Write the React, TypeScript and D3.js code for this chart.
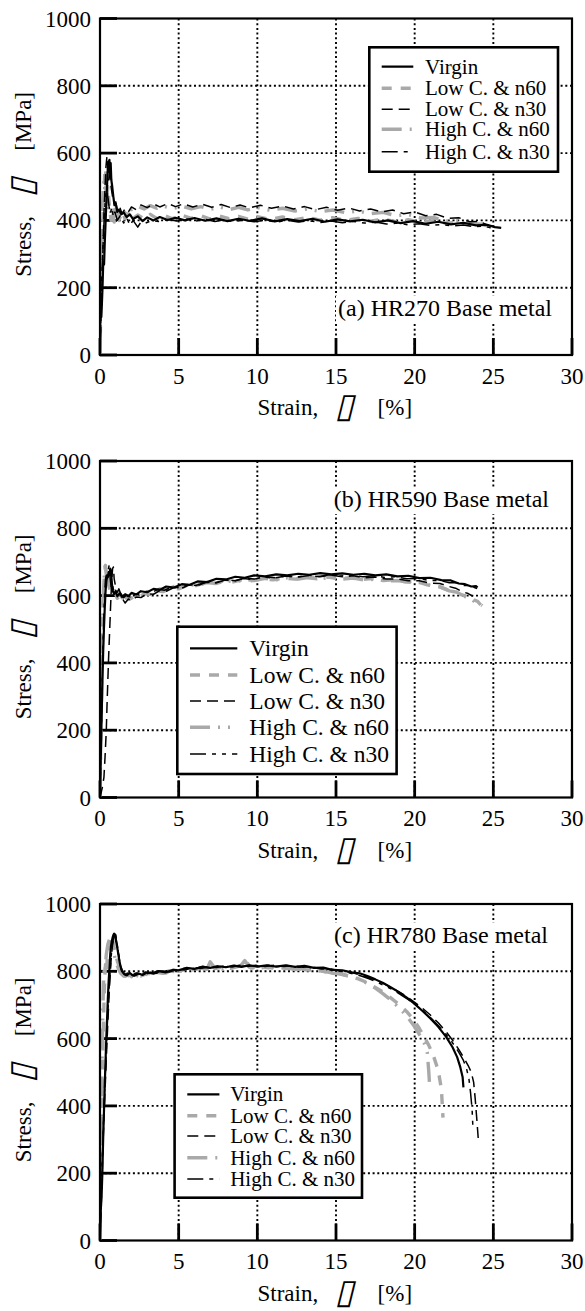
import React from 'react';
import * as d3 from 'd3';

type P = [number, number];

const xTicks = [0, 5, 10, 15, 20, 25, 30];
const yTicks = [0, 200, 400, 600, 800, 1000];
const seriesNames = ['Virgin', 'Low C. & n60', 'Low C. & n30', 'High C. & n60', 'High C. & n30'];
const panelLabels = ['(a) HR270 Base metal', '(b) HR590 Base metal', '(c) HR780 Base metal'];
const xTitle = ['Strain,', '\u25AF', '[%]'];
const yTitle = ['Stress,', '\u25AF', '[MPa]'];

// ---------- (a) HR270 ----------
const A_virgin: P[] = [[0,0],[0.02,110],[0.08,112],[0.12,150],[0.16,200],[0.2,265],[0.26,270],[0.3,330],[0.36,400],[0.42,470],[0.48,540],[0.52,575],[0.56,560],[0.6,580],[0.64,540],[0.68,570],[0.72,520],[0.78,500],[0.85,470],[0.92,445],[1.0,450],[1.1,425],[1.2,432],[1.35,418],[1.5,424],[1.7,410],[1.9,418],[2.1,404],[2.4,412],[2.7,398],[3.0,409],[3.4,400],[3.8,410],[4.3,401],[4.8,408],[5.4,400],[6.0,407],[6.7,399],[7.4,406],[8.1,398],[8.8,405],[9.5,399],[10.3,406],[11.1,397],[11.9,404],[12.7,398],[13.5,405],[14.3,396],[15.1,403],[15.9,397],[16.7,402],[17.5,394],[18.3,400],[19.1,392],[19.9,398],[20.7,390],[21.5,396],[22.3,388],[23.1,393],[23.9,385],[24.6,387],[25.1,380],[25.5,378]];
const A_lowN60: P[] = [[0,0],[0.05,150],[0.1,250],[0.15,330],[0.2,420],[0.25,480],[0.3,540],[0.35,555],[0.4,520],[0.45,480],[0.5,500],[0.6,440],[0.7,400],[0.8,430],[0.9,395],[1.0,420],[1.2,400],[1.4,425],[1.6,405],[1.8,420],[2.0,402],[2.4,416],[2.8,404],[3.2,418],[3.6,406],[4.0,416],[4.6,405],[5.2,415],[5.8,406],[6.4,414],[7.0,404],[7.6,413],[8.2,405],[8.8,412],[9.4,404],[10.0,411],[10.8,403],[11.6,410],[12.4,402],[13.2,409],[14.0,401],[14.8,408],[15.6,400],[16.4,406],[17.2,398],[18.0,404],[18.8,396],[19.6,402],[20.4,395],[21.2,399],[22.0,392],[22.8,394],[23.6,387],[24.3,388],[24.9,380],[25.2,376]];
const A_lowN30: P[] = [[0,0],[0.05,100],[0.1,180],[0.18,300],[0.25,420],[0.32,500],[0.38,560],[0.44,590],[0.5,560],[0.56,520],[0.62,560],[0.7,500],[0.8,470],[0.9,450],[1.0,455],[1.1,430],[1.25,440],[1.4,420],[1.6,435],[1.8,425],[2.0,440],[2.3,432],[2.6,446],[3.0,438],[3.4,449],[3.8,440],[4.3,450],[4.8,441],[5.3,449],[5.9,440],[6.5,448],[7.1,439],[7.7,447],[8.3,438],[8.9,446],[9.5,437],[10.2,445],[10.9,436],[11.6,443],[12.3,434],[13.0,441],[13.7,432],[14.4,439],[15.1,430],[15.8,437],[16.5,428],[17.2,434],[17.9,425],[18.6,431],[19.3,420],[20.0,425],[20.7,414],[21.4,418],[22.1,406],[22.8,408],[23.5,396],[24.1,397],[24.7,385],[25.1,382]];
const A_highN60: P[] = [[0,0],[0.03,170],[0.08,280],[0.12,380],[0.17,450],[0.22,500],[0.27,520],[0.32,480],[0.37,500],[0.42,460],[0.5,430],[0.6,445],[0.7,420],[0.8,438],[0.9,418],[1.0,434],[1.2,416],[1.4,432],[1.6,424],[1.8,440],[2.0,432],[2.4,442],[2.8,434],[3.2,444],[3.6,436],[4.0,443],[4.6,435],[5.2,442],[5.8,434],[6.4,441],[7.0,433],[7.6,440],[8.2,432],[8.8,439],[9.4,431],[10.0,438],[10.8,430],[11.6,436],[12.4,428],[13.2,434],[14.0,426],[14.8,431],[15.6,423],[16.4,428],[17.2,420],[18.0,424],[18.8,414],[19.6,417],[20.4,407],[21.2,409],[22.0,398],[22.8,399],[23.6,390],[24.3,389],[24.9,381]];
const A_highN30: P[] = [[0,0],[0.05,130],[0.1,200],[0.15,280],[0.2,330],[0.26,400],[0.32,450],[0.38,480],[0.44,490],[0.5,470],[0.58,440],[0.66,420],[0.75,440],[0.85,410],[0.95,425],[1.1,400],[1.3,415],[1.5,392],[1.7,408],[1.9,385],[2.1,400],[2.4,380],[2.6,395],[2.9,392],[3.3,400],[3.8,396],[4.3,403],[4.9,398],[5.5,404],[6.1,398],[6.7,403],[7.3,397],[7.9,402],[8.5,396],[9.1,401],[9.8,396],[10.5,401],[11.2,395],[11.9,400],[12.6,395],[13.3,399],[14.0,394],[14.7,398],[15.4,393],[16.1,397],[16.8,392],[17.5,395],[18.2,389],[18.9,392],[19.6,387],[20.3,390],[21.0,385],[21.7,388],[22.4,383],[23.1,386],[23.8,381],[24.4,383],[24.9,377]];

// ---------- (b) HR590 ----------
const B_virgin: P[] = [[0,0],[0.05,120],[0.1,230],[0.15,340],[0.2,430],[0.25,500],[0.3,560],[0.35,610],[0.4,640],[0.45,660],[0.5,655],[0.55,670],[0.6,660],[0.65,680],[0.7,675],[0.75,640],[0.8,615],[0.9,605],[1.0,612],[1.1,598],[1.25,606],[1.4,596],[1.6,604],[1.8,598],[2.0,608],[2.3,603],[2.6,613],[3.0,610],[3.4,620],[3.8,617],[4.2,627],[4.7,624],[5.2,634],[5.7,632],[6.2,642],[6.8,640],[7.4,650],[8.0,648],[8.6,656],[9.2,653],[9.8,660],[10.5,657],[11.2,663],[11.9,660],[12.6,665],[13.3,662],[14.0,667],[14.7,663],[15.4,666],[16.1,662],[16.8,665],[17.5,660],[18.2,663],[18.9,657],[19.6,659],[20.3,652],[21.0,653],[21.7,646],[22.3,645],[22.8,636],[23.2,634],[23.6,627],[23.9,628],[24.0,624]];
const B_lowN60: P[] = [[0,0],[0.04,150],[0.08,280],[0.12,400],[0.16,500],[0.2,580],[0.25,640],[0.3,670],[0.35,690],[0.4,660],[0.45,640],[0.55,630],[0.65,615],[0.8,600],[0.95,610],[1.1,592],[1.3,600],[1.5,588],[1.7,596],[1.9,590],[2.2,598],[2.5,595],[2.8,605],[3.2,604],[3.6,614],[4.0,612],[4.5,622],[5.0,620],[5.5,630],[6.0,628],[6.6,637],[7.2,635],[7.8,643],[8.4,640],[9.0,647],[9.6,644],[10.3,650],[11.0,647],[11.7,652],[12.4,649],[13.1,654],[13.8,650],[14.5,655],[15.2,650],[15.9,653],[16.6,648],[17.3,651],[18.0,645],[18.7,647],[19.4,641],[20.1,642],[20.8,632],[21.5,628],[22.1,617],[22.6,612],[23.0,602],[23.4,598],[23.7,588],[24.0,583],[24.2,572]];
const B_lowN30: P[] = [[0,0],[0.15,30],[0.25,60],[0.32,120],[0.4,200],[0.45,280],[0.5,350],[0.55,420],[0.6,480],[0.65,540],[0.7,600],[0.75,650],[0.8,680],[0.85,685],[0.9,650],[1.0,625],[1.1,610],[1.2,620],[1.35,600],[1.5,585],[1.6,578],[1.8,590],[2.0,585],[2.3,596],[2.6,594],[3.0,606],[3.4,604],[3.8,615],[4.2,613],[4.7,624],[5.2,622],[5.7,632],[6.2,630],[6.8,640],[7.4,638],[8.0,647],[8.6,644],[9.2,652],[9.8,649],[10.5,656],[11.2,653],[11.9,659],[12.6,655],[13.3,660],[14.0,656],[14.7,661],[15.4,656],[16.1,659],[16.8,653],[17.5,655],[18.2,649],[18.9,650],[19.6,644],[20.3,644],[21.0,637],[21.6,636],[22.1,628],[22.6,622],[23.0,612],[23.4,606],[23.7,598]];
const B_highN60: P[] = [[0,0],[0.03,100],[0.06,200],[0.1,300],[0.14,420],[0.18,520],[0.22,600],[0.26,650],[0.3,680],[0.34,695],[0.38,670],[0.42,655],[0.5,660],[0.6,630],[0.7,640],[0.8,610],[0.9,620],[1.0,600],[1.2,610],[1.4,594],[1.6,602],[1.8,590],[2.0,598],[2.3,592],[2.6,604],[3.0,612],[3.4,608],[3.8,620],[4.2,617],[4.7,627],[5.2,624],[5.7,633],[6.2,630],[6.8,639],[7.4,636],[8.0,644],[8.6,641],[9.2,648],[9.8,645],[10.5,651],[11.2,647],[11.9,653],[12.6,649],[13.3,654],[14.0,650],[14.7,655],[15.4,649],[16.1,652],[16.8,646],[17.5,649],[18.2,643],[18.9,645],[19.6,640],[20.3,639],[21.0,630],[21.6,626],[22.2,614],[22.7,610],[23.1,598],[23.5,594],[23.8,582],[24.1,577],[24.3,570]];
const B_highN30: P[] = [[0,0],[0.04,110],[0.08,200],[0.12,300],[0.16,390],[0.2,470],[0.25,550],[0.3,610],[0.35,650],[0.4,660],[0.45,640],[0.5,670],[0.58,690],[0.65,650],[0.72,620],[0.8,630],[0.9,605],[1.0,615],[1.15,598],[1.3,608],[1.5,594],[1.7,602],[1.9,596],[2.2,606],[2.5,602],[2.9,612],[3.3,609],[3.7,619],[4.1,616],[4.6,626],[5.1,623],[5.6,633],[6.1,630],[6.7,640],[7.3,637],[7.9,646],[8.5,643],[9.1,651],[9.7,648],[10.4,655],[11.1,652],[11.8,658],[12.5,655],[13.2,661],[13.9,657],[14.6,662],[15.3,658],[16.0,661],[16.7,656],[17.4,659],[18.1,654],[18.8,656],[19.5,650],[20.2,651],[20.9,645],[21.6,645],[22.2,638],[22.7,638],[23.1,630],[23.5,630],[23.8,624],[24.0,620]];

// ---------- (c) HR780 ----------
const C_virgin: P[] = [[0,0],[0.05,90],[0.1,130],[0.15,200],[0.2,300],[0.25,380],[0.3,460],[0.35,530],[0.4,600],[0.45,660],[0.5,720],[0.55,770],[0.6,810],[0.65,850],[0.7,875],[0.75,890],[0.8,900],[0.85,908],[0.9,912],[0.95,905],[1.0,895],[1.1,870],[1.2,840],[1.3,815],[1.4,800],[1.55,792],[1.7,788],[1.9,795],[2.1,787],[2.4,794],[2.7,789],[3.0,797],[3.4,793],[3.8,800],[4.2,797],[4.6,804],[5.0,803],[5.5,810],[6.0,807],[6.5,813],[7.0,810],[7.5,815],[8.0,812],[8.5,817],[9.0,813],[9.5,818],[10.0,814],[10.6,818],[11.2,814],[11.8,818],[12.4,813],[13.0,816],[13.6,810],[14.2,811],[14.8,804],[15.4,803],[16.0,797],[16.5,794],[17.0,786],[17.5,776],[18.0,765],[18.5,752],[19.0,738],[19.5,722],[20.0,703],[20.5,682],[21.0,660],[21.5,635],[22.0,605],[22.4,575],[22.7,545],[22.9,515],[23.05,485],[23.1,455]];
const C_lowN60: P[] = [[0,0],[0.04,150],[0.08,260],[0.12,380],[0.16,500],[0.2,600],[0.25,700],[0.3,780],[0.35,820],[0.4,800],[0.45,830],[0.5,860],[0.6,890],[0.7,905],[0.8,895],[0.9,870],[1.0,850],[1.1,830],[1.25,810],[1.4,795],[1.6,785],[1.8,792],[2.0,784],[2.3,791],[2.6,786],[3.0,794],[3.4,790],[3.8,798],[4.2,795],[4.6,802],[5.0,800],[5.5,807],[6.0,804],[6.5,811],[7.0,822],[7.3,808],[7.8,813],[8.3,809],[8.8,815],[9.3,828],[9.6,810],[10.1,814],[10.7,810],[11.3,814],[11.9,808],[12.5,811],[13.1,804],[13.7,806],[14.3,798],[14.9,797],[15.5,789],[16.0,785],[16.5,776],[17.0,766],[17.5,752],[18.0,738],[18.5,720],[19.0,702],[19.5,680],[20.0,652],[20.3,630],[20.6,605],[20.9,580],[21.2,548],[21.5,505],[21.7,450],[21.8,365]];
const C_lowN30: P[] = [[0,0],[0.05,80],[0.1,150],[0.15,220],[0.2,300],[0.3,420],[0.4,540],[0.5,650],[0.6,750],[0.7,830],[0.8,880],[0.9,905],[0.98,910],[1.05,890],[1.15,860],[1.25,830],[1.35,805],[1.5,793],[1.7,786],[1.9,793],[2.2,786],[2.5,793],[2.8,789],[3.2,797],[3.6,794],[4.0,801],[4.4,798],[4.9,806],[5.4,804],[5.9,811],[6.4,808],[6.9,814],[7.4,811],[7.9,816],[8.4,813],[8.9,818],[9.4,814],[9.9,818],[10.5,814],[11.1,818],[11.7,814],[12.3,817],[12.9,812],[13.5,813],[14.1,807],[14.7,807],[15.3,800],[15.9,798],[16.5,790],[17.0,783],[17.5,774],[18.0,764],[18.5,752],[19.0,739],[19.5,725],[20.0,708],[20.5,690],[21.0,670],[21.5,647],[22.0,620],[22.4,596],[22.8,568],[23.1,545],[23.4,520],[23.6,500],[23.75,470],[23.85,420],[23.95,360],[24.05,297]];
const C_highN60: P[] = [[0,0],[0.03,160],[0.06,300],[0.1,430],[0.14,560],[0.18,680],[0.22,760],[0.26,800],[0.3,790],[0.35,820],[0.4,850],[0.5,880],[0.6,895],[0.7,890],[0.8,870],[0.9,850],[1.0,830],[1.15,810],[1.3,795],[1.5,786],[1.7,792],[1.9,783],[2.2,790],[2.5,784],[2.8,792],[3.2,789],[3.6,797],[4.0,794],[4.4,801],[4.8,799],[5.3,806],[5.8,803],[6.3,810],[6.8,806],[7.0,828],[7.3,810],[7.8,806],[8.3,812],[8.8,808],[9.2,832],[9.5,812],[10.0,808],[10.6,813],[11.2,808],[11.8,811],[12.4,805],[13.0,808],[13.6,800],[14.2,802],[14.8,794],[15.4,792],[16.0,783],[16.5,776],[17.0,764],[17.5,750],[18.0,733],[18.5,714],[19.0,692],[19.5,667],[20.0,635],[20.3,612],[20.6,588],[20.8,560],[20.9,500],[20.95,460]];
const C_highN30: P[] = [[0,0],[0.05,100],[0.1,180],[0.2,320],[0.3,450],[0.4,570],[0.5,680],[0.6,770],[0.7,840],[0.8,885],[0.9,905],[1.0,908],[1.08,885],[1.18,850],[1.3,818],[1.45,798],[1.6,790],[1.8,795],[2.0,788],[2.3,795],[2.6,790],[2.9,798],[3.3,795],[3.7,802],[4.1,799],[4.5,806],[5.0,804],[5.5,811],[6.0,808],[6.5,814],[7.0,811],[7.5,816],[8.0,813],[8.5,817],[9.0,814],[9.5,818],[10.1,814],[10.7,818],[11.3,814],[11.9,817],[12.5,812],[13.1,814],[13.7,808],[14.3,808],[14.9,801],[15.5,799],[16.1,792],[16.6,786],[17.1,778],[17.6,768],[18.1,757],[18.6,745],[19.1,731],[19.6,716],[20.1,699],[20.6,680],[21.1,658],[21.6,634],[22.0,612],[22.4,588],[22.8,560],[23.1,535],[23.3,510],[23.45,480],[23.55,440],[23.65,390],[23.7,337]];

const panelSeries: P[][][] = [
  [A_virgin, A_lowN60, A_lowN30, A_highN60, A_highN30],
  [B_virgin, B_lowN60, B_lowN30, B_highN60, B_highN30],
  [C_virgin, C_lowN60, C_lowN30, C_highN60, C_highN30],
];

// ---------- layout / styles ----------
const W = 585;
const H = 1311;
const plotLeft = 100;
const plotRight = 572;
const plotH = 336.5;
const panelTops = [18.5, 461, 904];
const FONT = "'Liberation Serif','Times New Roman',Times,serif";

const styles = [
  { stroke: '#000', width: 2.2, dash: undefined as string | undefined },
  { stroke: '#a9a9a9', width: 3.4, dash: '10,9' },
  { stroke: '#000', width: 1.5, dash: '11,6' },
  { stroke: '#a9a9a9', width: 3.4, dash: '20,8,2,8,2,8' },
  { stroke: '#000', width: 1.5, dash: '16,6,4,6,4,6' },
];
const drawOrder = [1, 3, 2, 4, 0];

const legends = [
  { x0: 369.3, x1: 558, y0: 47.3, y1: 171.7, l0: 381.7, l1: 413.3, tx: 425, rows: [66.7, 88.3, 109.3, 129.3, 151.7], fs: 21 },
  { x0: 177.3, x1: 396.6, y0: 626.7, y1: 774, l0: 190, l1: 237.3, tx: 249.3, rows: [648.3, 675, 701, 727.3, 754], fs: 23.5 },
  { x0: 174.6, x1: 362, y0: 1074.3, y1: 1197.7, l0: 187.3, l1: 219.4, tx: 230.2, rows: [1094.3, 1115.7, 1136, 1157.7, 1179], fs: 21 },
];
const labelPos = [
  { x: 552, y: 316 },
  { x: 549, y: 507 },
  { x: 548, y: 943 },
];

function Panel({ idx }: { idx: number }) {
  const top = panelTops[idx];
  const bottom = top + plotH;
  const x = d3.scaleLinear().domain([0, 30]).range([plotLeft, plotRight]);
  const y = d3.scaleLinear().domain([0, 1000]).range([bottom, top]);
  const line = d3.line<P>().x((d) => x(d[0])).y((d) => y(d[1]));
  const cx = (plotLeft + plotRight) / 2;
  const cy = (top + bottom) / 2;
  const lg = legends[idx];
  const lab = labelPos[idx];
  const series = panelSeries[idx];
  return (
    <g>
      <defs>
        <clipPath id={`clip${idx}`}>
          <rect x={plotLeft} y={top} width={plotRight - plotLeft} height={plotH} />
        </clipPath>
      </defs>
      {xTicks.filter((t) => t > 0 && t < 30).map((t) => (
        <line key={'gx' + t} x1={x(t)} x2={x(t)} y1={top} y2={bottom} stroke="#000" strokeWidth={1.9} strokeDasharray="2,2.7" />
      ))}
      {yTicks.filter((t) => t > 0 && t < 1000).map((t) => (
        <line key={'gy' + t} x1={plotLeft} x2={plotRight} y1={y(t)} y2={y(t)} stroke="#000" strokeWidth={1.9} strokeDasharray="2,2.7" />
      ))}
      <rect x={lab.x - 216} y={lab.y - 20} width={220} height={27} fill="#fff" />
      <text x={lab.x} y={lab.y} textAnchor="end" fontSize={24} fontFamily={FONT}>{panelLabels[idx]}</text>
      {xTicks.map((t) => (
        <line key={'tx' + t} x1={x(t)} x2={x(t)} y1={bottom} y2={bottom - 17} stroke="#000" strokeWidth={2.8} />
      ))}
      {yTicks.map((t) => (
        <line key={'ty' + t} x1={plotLeft} x2={plotLeft + 17} y1={y(t)} y2={y(t)} stroke="#000" strokeWidth={2.8} />
      ))}
      <g clipPath={`url(#clip${idx})`}>
        {drawOrder.map((k) => (
          <path key={'s' + k} d={line(series[k]) || ''} fill="none" stroke={styles[k].stroke} strokeWidth={styles[k].width} strokeDasharray={styles[k].dash} strokeLinejoin="round" />
        ))}
      </g>
      <rect x={plotLeft} y={top} width={plotRight - plotLeft} height={plotH} fill="none" stroke="#000" strokeWidth={2.2} />
      {xTicks.map((t) => (
        <text key={'lx' + t} x={x(t)} y={bottom + 28.5} textAnchor="middle" fontSize={23} fontFamily={FONT}>{t}</text>
      ))}
      {yTicks.map((t) => (
        <text key={'ly' + t} x={91} y={y(t)} dy="0.35em" textAnchor="end" fontSize={23} fontFamily={FONT}>{t}</text>
      ))}
      {/* x title */}
      <text x={cx - 78.5} y={bottom + 60} fontSize={23} fontFamily={FONT}>{xTitle[0]}</text>
      <text transform={`translate(${cx - 1},${bottom + 62}) skewX(-14)`} fontSize={34} fontFamily="'DejaVu Sans'">{xTitle[1]}</text>
      <text x={cx + 41.6} y={bottom + 60} fontSize={23} fontFamily={FONT}>{xTitle[2]}</text>
      {/* y title */}
      <g transform={`translate(31,${cy}) rotate(-90)`}>
        <text x={-90} y={0} fontSize={23} fontFamily={FONT}>{yTitle[0]}</text>
        <text transform="translate(-10,2) skewX(-14)" fontSize={34} fontFamily="'DejaVu Sans'">{yTitle[1]}</text>
        <text x={36} y={0} fontSize={23} fontFamily={FONT}>{yTitle[2]}</text>
      </g>
      {/* legend */}
      <rect x={lg.x0} y={lg.y0} width={lg.x1 - lg.x0} height={lg.y1 - lg.y0} fill="#fff" stroke="#000" strokeWidth={2.6} />
      {seriesNames.map((n, k) => (
        <g key={'lg' + k}>
          <line x1={lg.l0} x2={lg.l1} y1={lg.rows[k]} y2={lg.rows[k]} stroke={styles[k].stroke} strokeWidth={styles[k].width} strokeDasharray={styles[k].dash} />
          <text x={lg.tx} y={lg.rows[k]} dy="0.33em" fontSize={lg.fs} fontFamily={FONT}>{n}</text>
        </g>
      ))}
    </g>
  );
}

export default function App() {
  return (
    <svg width={W} height={H} viewBox={`0 0 ${W} ${H}`} style={{ position: 'absolute', left: 0, top: 0, background: '#fff' }}>
      <rect width={W} height={H} fill="#fff" />
      {[0, 1, 2].map((i) => (
        <Panel key={i} idx={i} />
      ))}
    </svg>
  );
}
